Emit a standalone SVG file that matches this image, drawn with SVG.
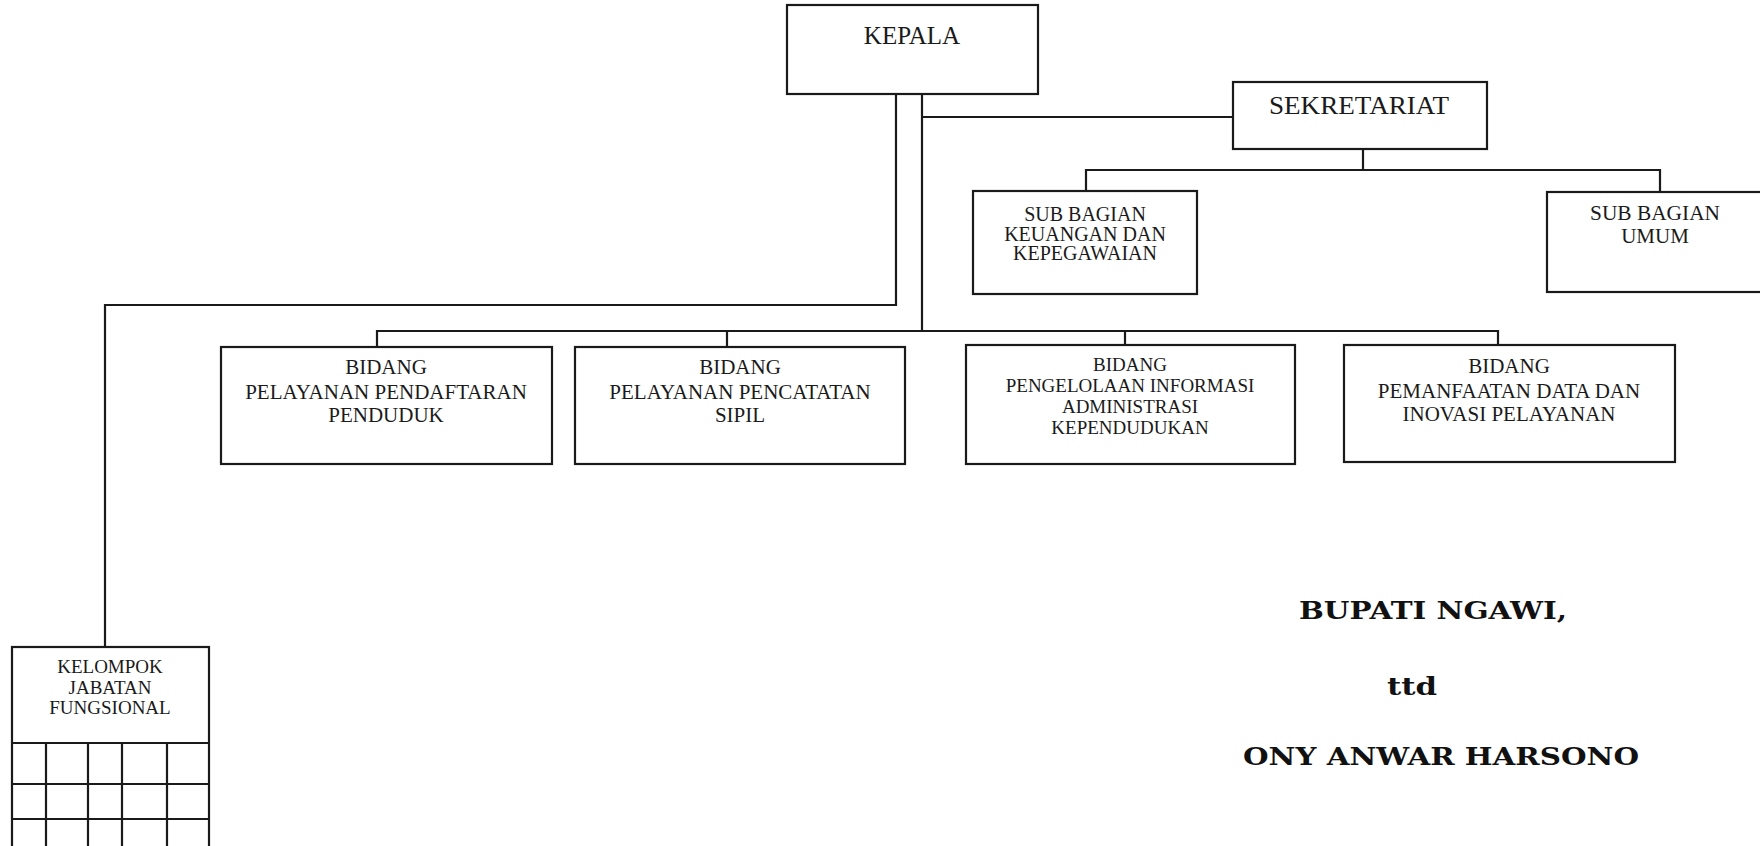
<svg xmlns="http://www.w3.org/2000/svg" width="1760" height="846" viewBox="0 0 1760 846">
<style>
.box{fill:#fff;stroke:#1a1a1a;stroke-width:2.2}
.ln{fill:none;stroke:#1a1a1a;stroke-width:2.2}
text{font-family:"Liberation Serif","Times New Roman",serif;fill:#1a1a1a;text-anchor:middle}
.t25{font-size:25px}
.t21{font-size:21px}
.t20{font-size:20px}
.t19{font-size:19px}
.sig{font-family:"DejaVu Serif",serif;font-weight:bold;font-size:24px;fill:#111}
</style>
<rect width="1760" height="846" fill="#fff"/>
<g id="connectors">
<path class="ln" d="M922 94 V331"/>
<path class="ln" d="M896 94 V305 H105 V647"/>
<path class="ln" d="M922 117 H1233"/>
<path class="ln" d="M1363 149 V170"/>
<path class="ln" d="M1086 191 V170 H1660 V192"/>
<path class="ln" d="M377 347 V331 H1498 V345"/>
<path class="ln" d="M727 331 V347"/>
<path class="ln" d="M1125 331 V345"/>
</g>
<g id="kepala">
<rect class="box" x="787" y="5" width="251" height="89"/>
<text class="t25" x="912" y="44">KEPALA</text>
</g>
<g id="sekretariat">
<rect class="box" x="1233" y="82" width="254" height="67"/>
<text class="t25" x="1359" y="114" textLength="180" lengthAdjust="spacingAndGlyphs">SEKRETARIAT</text>
</g>
<g id="subbag-keuangan">
<rect class="box" x="973" y="191" width="224" height="103"/>
<text class="t20" x="1085" y="221">SUB BAGIAN</text>
<text class="t20" x="1085" y="241">KEUANGAN DAN</text>
<text class="t20" x="1085" y="260">KEPEGAWAIAN</text>
</g>
<g id="subbag-umum">
<rect class="box" x="1547" y="192" width="230" height="100"/>
<text class="t21" x="1655" y="220" textLength="130" lengthAdjust="spacingAndGlyphs">SUB BAGIAN</text>
<text class="t21" x="1655" y="243">UMUM</text>
</g>
<g id="bidang-pendaftaran">
<rect class="box" x="221" y="347" width="331" height="117"/>
<text class="t21" x="386" y="374">BIDANG</text>
<text class="t21" x="386" y="399">PELAYANAN PENDAFTARAN</text>
<text class="t21" x="386" y="422">PENDUDUK</text>
</g>
<g id="bidang-pencatatan">
<rect class="box" x="575" y="347" width="330" height="117"/>
<text class="t21" x="740" y="374">BIDANG</text>
<text class="t21" x="740" y="399">PELAYANAN PENCATATAN</text>
<text class="t21" x="740" y="422">SIPIL</text>
</g>
<g id="bidang-informasi">
<rect class="box" x="966" y="345" width="329" height="119"/>
<text class="t19" x="1130" y="371">BIDANG</text>
<text class="t19" x="1130" y="392">PENGELOLAAN INFORMASI</text>
<text class="t19" x="1130" y="413">ADMINISTRASI</text>
<text class="t19" x="1130" y="434">KEPENDUDUKAN</text>
</g>
<g id="bidang-pemanfaatan">
<rect class="box" x="1344" y="345" width="331" height="117"/>
<text class="t21" x="1509" y="373">BIDANG</text>
<text class="t21" x="1509" y="398">PEMANFAATAN DATA DAN</text>
<text class="t21" x="1509" y="421">INOVASI PELAYANAN</text>
</g>
<g id="kelompok-fungsional">
<rect class="box" x="12" y="647" width="197" height="220"/>
<text class="t19" x="110" y="673">KELOMPOK</text>
<text class="t19" x="110" y="694">JABATAN</text>
<text class="t19" x="110" y="714">FUNGSIONAL</text>
<path class="ln" d="M12 743 H209 M12 784 H209 M12 819 H209 M46 743 V846 M88 743 V846 M122 743 V846 M167 743 V846"/>
</g>
<g id="signature">
<text class="sig" x="1433" y="619" textLength="268" lengthAdjust="spacingAndGlyphs">BUPATI NGAWI,</text>
<text class="sig" x="1412" y="695" textLength="50" lengthAdjust="spacingAndGlyphs">ttd</text>
<text class="sig" x="1441" y="765" textLength="396" lengthAdjust="spacingAndGlyphs">ONY ANWAR HARSONO</text>
</g>
</svg>
